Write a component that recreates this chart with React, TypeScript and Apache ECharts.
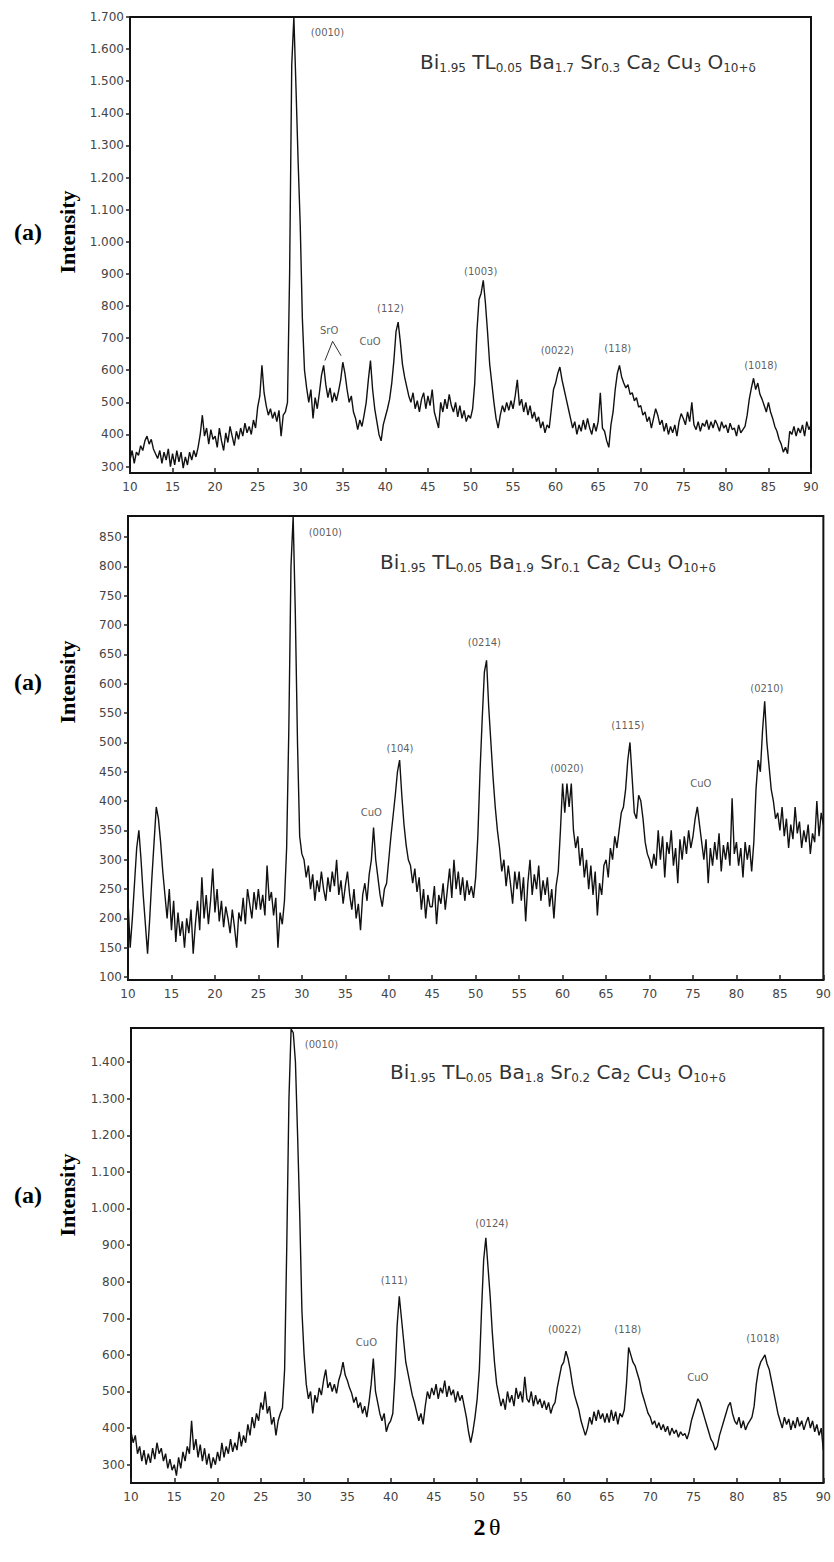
import React, { useEffect, useRef } from "react";
import * as echarts from "echarts";

const X_START = 10;
const X_STEP = 0.25;

// Panel 1: Bi1.95 Tl0.05 Ba1.7 Sr0.3 Ca2 Cu3 O10+δ  (10° … 90°, every 0.25°)
const p1Intensity = [
  320, 350, 310, 345, 335, 365, 350, 380, 395, 370, 385, 355, 340, 325, 350, 310, 345, 320, 355, 300,
  340, 305, 350, 315, 345, 295, 330, 305, 345, 320, 350, 330, 360, 400, 460, 395, 420, 370, 415, 385,
  395, 360, 420, 380, 350, 405, 375, 425, 395, 365, 410, 385, 420, 395, 435, 405, 425, 400, 445, 420,
  485, 520, 615, 530, 490, 460, 480, 450, 470, 440, 475, 395, 460, 470, 500, 900, 1550, 1700, 1480, 1250,
  1050, 760, 600, 545, 500, 540, 450, 515, 480, 530, 585, 615, 555, 515, 545, 500, 530, 505, 535, 570,
  625, 590, 540, 500, 520, 470, 450, 415, 445, 425, 460, 500, 570, 630, 540, 480, 440, 400, 380, 430,
  455, 480, 510, 560, 630, 720, 750, 690, 620, 580, 550, 520, 500, 530, 480, 505, 470, 510, 530, 480,
  520, 490, 540, 470, 445, 420, 500, 470, 510, 480, 525, 490, 470, 500, 455, 490, 450, 475, 440, 460,
  450, 480, 560, 720, 820, 840, 880, 810, 720, 620, 560, 500, 450, 420, 460, 490, 470, 500, 475, 505,
  480, 520, 570, 490, 510, 470, 500, 460, 490, 450, 470, 440, 455, 420, 440, 405, 430, 420, 480, 540,
  560, 590, 610, 570, 540, 510, 480, 450, 420, 440, 400, 430, 410, 445, 415, 450, 420, 400, 435, 410,
  440, 530, 420, 410, 380, 360, 430, 470, 540, 590, 615, 580, 560, 545, 555, 525, 530, 505, 515, 485,
  490, 460, 470, 440, 455, 420, 450, 480, 460, 430, 445, 410, 435, 400, 425, 405, 430, 395, 440, 465,
  450, 430, 470, 440, 500, 430, 415, 440, 410, 435, 425, 445, 415, 440, 420, 445, 430, 410, 440, 420,
  430, 405, 435, 415, 420, 395, 430, 405, 415, 425, 460, 510, 545, 575, 540, 560, 525, 510, 490, 470,
  500, 470, 450, 425, 410, 385, 370, 345, 360, 340, 410, 400, 425, 395, 420, 405, 430, 395, 440, 415,
  430,
];

// Panel 2: Bi1.95 Tl0.05 Ba1.9 Sr0.1 Ca2 Cu3 O10+δ
const p2Intensity = [
  230, 150, 200, 260, 320, 350, 300, 240, 190, 140, 200, 270, 330, 390, 370, 330, 280, 240, 200, 250,
  180, 230, 160, 210, 170, 195, 150, 200, 175, 215, 140, 190, 230, 180, 270, 200, 240, 190, 230, 285,
  210, 250, 195, 230, 185, 220, 200, 175, 215, 185, 150, 210, 195, 235, 190, 250, 225, 200, 245, 215,
  250, 215, 240, 205, 290, 230, 245, 205, 235, 150, 210, 190, 230, 320, 520, 800, 885, 720, 500, 340,
  310, 300, 270, 290, 250, 275, 230, 265, 245, 280, 250, 230, 270, 245, 280, 255, 300, 240, 265, 225,
  255, 280, 240, 215, 250, 200, 225, 180, 240, 260, 230, 275, 300, 355, 300, 270, 240, 220, 250, 260,
  300, 340, 375, 410, 450, 470, 410, 360, 325, 300, 290, 260, 285, 245, 270, 215, 250, 200, 240, 220,
  220, 255, 190, 240, 225, 260, 215, 250, 285, 235, 300, 250, 280, 240, 270, 230, 265, 240, 255, 235,
  270, 340, 450, 540, 620, 640, 560, 500, 440, 390, 350, 320, 280, 300, 255, 290, 260, 225, 280, 250,
  280, 230, 270, 195, 260, 300, 240, 275, 250, 290, 230, 265, 240, 270, 220, 250, 200, 255, 280, 350,
  430, 380, 430, 390, 430, 350, 320, 340, 290, 320, 270, 300, 250, 290, 240, 280, 205, 260, 240, 290,
  300, 270, 320, 300, 340, 320, 350, 380, 390, 420, 470, 500, 440, 380, 370, 410, 400, 370, 330, 310,
  300, 285, 310, 290, 350, 300, 340, 270, 330, 310, 350, 290, 320, 260, 335, 300, 340, 310, 350, 320,
  340, 370, 390, 360, 330, 300, 335, 260, 320, 290, 330, 300, 345, 280, 325, 300, 330, 290, 405, 310,
  330, 290, 320, 270, 330, 300, 325, 280, 330, 420, 470, 450, 520, 570, 500, 460, 420, 400, 370, 380,
  350, 390, 340, 370, 320, 360, 335, 390, 345, 365, 320, 350, 330, 360, 310, 345, 330, 400, 340, 380,
  360,
];

// Panel 3: Bi1.95 Tl0.05 Ba1.8 Sr0.2 Ca2 Cu3 O10+δ
const p3Intensity = [
  390, 360, 380, 330, 350, 310, 340, 300, 330, 305, 345, 315, 360, 330, 345, 310, 330, 290, 315, 285,
  300, 270, 320, 290, 335, 310, 350, 330, 420, 340, 370, 320, 355, 310, 345, 300, 330, 290, 320, 300,
  335, 310, 360, 320, 350, 330, 370, 335, 360, 340, 390, 350, 380, 360, 410, 380, 430, 400, 440, 420,
  470, 450, 500, 440, 460, 410, 430, 380, 420, 440, 455, 560, 900, 1300, 1490, 1480, 1400, 1200, 980, 720,
  600, 520, 480, 500, 440, 490, 470, 510, 490, 530, 560, 510, 525, 500, 520, 495, 530, 550, 580, 545,
  530, 510, 495, 470, 485, 455, 470, 440, 460, 430, 470, 520, 590, 500, 470, 440, 420, 440, 390, 410,
  420, 440, 540, 680, 760, 700, 640, 580, 550, 520, 490, 470, 445, 420, 440, 410, 460, 500, 480, 510,
  490, 520, 480, 510, 495, 530, 485, 515, 490, 505, 470, 500, 475, 490, 460, 430, 390, 360, 390, 430,
  480, 560, 720, 860, 920, 840, 760, 660, 580, 520, 490, 460, 480, 450, 500, 470, 490, 460, 510, 480,
  500, 470, 540, 480, 470, 500, 460, 490, 465, 480, 455, 475, 450, 470, 440, 460, 470, 510, 540, 570,
  580, 610, 590, 560, 520, 490, 470, 450, 420, 400, 380, 400, 430, 410, 445, 420, 450, 425, 440, 415,
  440, 415, 450, 420, 445, 410, 440, 430, 450, 520, 620, 600, 580, 570, 550, 530, 500, 480, 460, 440,
  430, 410, 420, 400, 415, 395, 410, 390, 405, 380, 400, 385, 395, 375, 390, 380, 385, 370, 390, 420,
  440, 460, 480, 470, 450, 430, 410, 390, 370, 360, 340, 350, 380, 400, 420, 440, 460, 470, 440, 420,
  410, 430, 400, 420, 395, 410, 420, 430, 460, 520, 560, 580, 590, 600, 575, 560, 530, 500, 470, 440,
  420, 400, 430, 410, 425, 395, 420, 400, 430, 405, 420, 395, 415, 430, 400, 420, 390, 410, 380, 400,
  340,
];

// Y tick values and their printed labels
const p1YTicks = [300, 400, 500, 600, 700, 800, 900, 1000, 1100, 1200, 1300, 1400, 1500, 1600, 1700];
const p1YLabels = ["300", "400", "500", "600", "700", "800", "900", "1.000", "1.100", "1.200", "1.300", "1.400", "1.500", "1.600", "1.700"];
const p2YTicks = [100, 150, 200, 250, 300, 350, 400, 450, 500, 550, 600, 650, 700, 750, 800, 850];
const p2YLabels = ["100", "150", "200", "250", "300", "350", "400", "450", "500", "550", "600", "650", "700", "750", "800", "850"];
const p3YTicks = [300, 400, 500, 600, 700, 800, 900, 1000, 1100, 1200, 1300, 1400];
const p3YLabels = ["300", "400", "500", "600", "700", "800", "900", "1.000", "1.100", "1.200", "1.300", "1.400"];

// Peak annotations: [text, 2θ, intensity]
const p1Peaks: [string, number, number][] = [
  ["(0010)", 33.2, 1653], ["SrO", 33.4, 725], ["CuO", 38.2, 688], ["(112)", 40.6, 793],
  ["(1003)", 51.2, 909], ["(0022)", 60.2, 663], ["(118)", 67.3, 669], ["(1018)", 84.1, 616],
];
const p2Peaks: [string, number, number][] = [
  ["(0010)", 32.7, 858], ["CuO", 38.0, 381], ["(104)", 41.3, 490], ["(0214)", 51.0, 671],
  ["(0020)", 60.5, 456], ["(1115)", 67.5, 529], ["CuO", 75.9, 430], ["(0210)", 83.5, 592],
];
const p3Peaks: [string, number, number][] = [
  ["(0010)", 32.0, 1449], ["CuO", 37.2, 635], ["(111)", 40.4, 804], ["(0124)", 51.7, 960],
  ["(0022)", 60.1, 668], ["(118)", 67.4, 670], ["CuO", 75.5, 539], ["(1018)", 83.0, 646],
];
// the "^" that joins the two SrO reflections in panel 1
const p1SrOMark = [[32.9, 630], [33.8, 690], [34.8, 645]];

// Formulae: [element, subscript]
const p1Formula = [["Bi", "1.95"], ["TL", "0.05"], ["Ba", "1.7"], ["Sr", "0.3"], ["Ca", "2"], ["Cu", "3"], ["O", "10+δ"]];
const p2Formula = [["Bi", "1.95"], ["TL", "0.05"], ["Ba", "1.9"], ["Sr", "0.1"], ["Ca", "2"], ["Cu", "3"], ["O", "10+δ"]];
const p3Formula = [["Bi", "1.95"], ["TL", "0.05"], ["Ba", "1.8"], ["Sr", "0.2"], ["Ca", "2"], ["Cu", "3"], ["O", "10+δ"]];

const toPairs = (vals: number[]) => vals.map((v, i) => [X_START + i * X_STEP, v]);
const formulaText = (f: string[][]) => f.map(([e, s]) => `{b|${e}}{s|${s}}`).join("{b| }");

export default function App() {
  const ref = useRef<HTMLDivElement>(null);

  useEffect(() => {
    if (!ref.current) return;
    const chart = echarts.init(ref.current, null, { renderer: "svg" });

    const grids = [
      { left: 130, top: 17, width: 681, height: 456 },
      { left: 128, top: 516, width: 701, height: 464 },
      { left: 131, top: 1028, width: 695, height: 455 },
    ];
    const yRanges = [[280, 1700], [95, 886], [250, 1493]];
    const yTicks = [p1YTicks, p2YTicks, p3YTicks];
    const yLabels = [p1YLabels, p2YLabels, p3YLabels];
    const traces = [p1Intensity, p2Intensity, p3Intensity];
    const peaks = [p1Peaks, p2Peaks, p3Peaks];
    const formulas = [p1Formula, p2Formula, p3Formula];
    const titlePos = [[420, 62], [380, 562], [390, 1072]];
    const sideY = [232, 682, 1195];

    const font = "DejaVu Sans";

    const option: any = {
      animation: false,
      backgroundColor: "#ffffff",
      grid: grids.map((g) => ({ ...g, show: true, borderColor: "#111", borderWidth: 2, backgroundColor: "transparent" })),
      xAxis: grids.map((_, i) => ({
        type: "value",
        gridIndex: i,
        min: 10,
        max: 90,
        interval: 5,
        axisLine: { show: true, lineStyle: { color: "#111", width: 2 } },
        axisTick: { show: true, inside: true, length: 5, lineStyle: { color: "#222", width: 1.5 } },
        axisLabel: { color: "#444", fontSize: 12, fontFamily: font, margin: 8 },
        splitLine: { show: false },
      })),
      yAxis: grids.map((_, i) => ({
        type: "value",
        gridIndex: i,
        min: yRanges[i][0],
        max: yRanges[i][1],
        axisLine: { show: true, lineStyle: { color: "#111", width: 2 } },
        axisTick: { show: true, inside: false, length: 4, customValues: yTicks[i], lineStyle: { color: "#222", width: 1.5 } },
        axisLabel: {
          customValues: yTicks[i],
          color: "#444",
          fontSize: 12,
          fontFamily: font,
          margin: 6,
          formatter: (v: number) => {
            const k = yTicks[i].indexOf(Math.round(v));
            return k >= 0 ? yLabels[i][k] : "";
          },
        },
        splitLine: { show: false },
      })),
      series: [
        ...traces.map((t, i) => ({
          type: "line",
          xAxisIndex: i,
          yAxisIndex: i,
          data: toPairs(t),
          symbol: "none",
          showSymbol: false,
          silent: true,
          lineStyle: { color: "#111", width: 1.4 },
        })),
        ...peaks.map((p, i) => ({
          type: "scatter",
          xAxisIndex: i,
          yAxisIndex: i,
          symbolSize: 0,
          silent: true,
          data: p.map(([t, x, y]) => ({ name: t, value: [x, y] })),
          label: { show: true, position: "inside", formatter: "{b}", color: "#333", fontSize: 10, fontFamily: font },
        })),
        {
          type: "line",
          xAxisIndex: 0,
          yAxisIndex: 0,
          data: p1SrOMark,
          symbol: "none",
          silent: true,
          lineStyle: { color: "#333", width: 1 },
        },
      ],
      graphic: [
        ...formulas.map((f, i) => ({
          type: "text",
          x: titlePos[i][0],
          y: titlePos[i][1],
          silent: true,
          style: {
            text: formulaText(f),
            verticalAlign: "middle",
            align: "left",
            fill: "#333",
            rich: {
              b: { fontSize: 20, fontFamily: font, lineHeight: 24, fill: "#333" },
              s: { fontSize: 12, fontFamily: font, lineHeight: 11, verticalAlign: "bottom", fill: "#333" },
            },
          },
        })),
        ...sideY.map((y) => ({
          type: "text",
          x: 28,
          y,
          silent: true,
          style: { text: "(a)", font: 'bold 24px "Liberation Serif"', fill: "#000", align: "center", verticalAlign: "middle" },
        })),
        ...sideY.map((y) => ({
          type: "text",
          x: 67,
          y,
          rotation: Math.PI / 2,
          silent: true,
          style: { text: "Intensity", font: 'bold 22px "Liberation Serif"', fill: "#000", align: "center", verticalAlign: "middle" },
        })),
        {
          type: "text",
          x: 487,
          y: 1527,
          silent: true,
          style: {
            text: "{n|2} {t|θ}",
            align: "center",
            verticalAlign: "middle",
            rich: {
              n: { font: 'bold 24px "Liberation Serif"', fill: "#000" },
              t: { font: '24px "Liberation Serif"', fill: "#000" },
            },
          },
        },
      ],
    };

    chart.setOption(option);
    return () => chart.dispose();
  }, []);

  return (
    <div
      ref={ref}
      style={{ position: "absolute", left: 0, top: 0, width: 834, height: 1562, background: "#fff" }}
    />
  );
}
